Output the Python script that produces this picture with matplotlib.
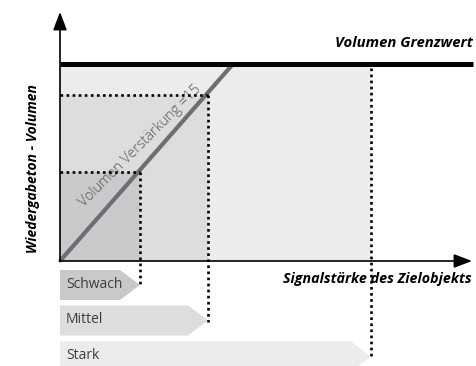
import matplotlib
matplotlib.use("Agg")
import matplotlib.pyplot as plt
from matplotlib.patches import Rectangle, Polygon
import numpy as np

# ---- data (signal strength vs. playback volume, arbitrary units) ----
levels = ["Schwach", "Mittel", "Stark"]
signal = [80, 148, 311]          # signal strength of the target for each level
volume = [89, 166, 197]          # resulting playback volume (Stark is capped)
volume_limit = 197               # "Volumen Grenzwert"
gain_x = [0, 173]                # gain line "Volumen Verstärkung =15"
gain_y = [0, 197]
axis_x_max = 412
axis_y_max = 249

region_colors = ["#c9cacb", "#dcdddd", "#ebecec"]
bar_colors = ["#c8c9ca", "#dcdddd", "#ebecec"]
bar_centers = [-24, -59.5, -95.5]

plt.rcParams['font.family'] = ['Open Sans', 'DejaVu Sans']

fig = plt.figure(figsize=(4.76, 3.66), dpi=100)
ax = fig.add_axes([0, 0, 1, 1])
ax.set_xlim(-60, 416)
ax.set_ylim(-105, 261)
ax.axis('off')

# shaded regions (largest first)
for s, v, c in sorted(zip(signal, volume, region_colors), key=lambda t: -t[0]):
    ax.add_patch(Rectangle((0, 0), s, v, facecolor=c, edgecolor='none', zorder=1))

# gain line
ax.plot(gain_x, gain_y, color='#6d6e71', lw=3.0, solid_capstyle='butt', zorder=3)

# limit line
ax.plot([0, 413], [volume_limit, volume_limit], color='black', lw=3.6,
        solid_capstyle='butt', zorder=4)

# dotted guides
dot = dict(color='black', lw=1.9, ls=(0, (1, 1.3)), zorder=5)
for s, v, c in zip(signal, volume, bar_centers):
    if v < volume_limit:
        ax.plot([0, s], [v, v], **dot)
        ax.plot([s, s], [v, c - 1], **dot)
    else:
        ax.plot([s, s], [v - 4, c - 1], **dot)

# axes with arrows
arrow = dict(arrowstyle='-|>,head_length=1.1,head_width=0.42', color='black',
             lw=1.2, mutation_scale=10, shrinkA=0, shrinkB=0)
ax.annotate('', xy=(0, axis_y_max), xytext=(0, -0.6), arrowprops=arrow, zorder=6)
ax.annotate('', xy=(axis_x_max, 0), xytext=(-0.6, 0), arrowprops=arrow, zorder=6)

# level arrow bars
h = 15
for name, s, c, col in zip(levels, signal, bar_centers, bar_colors):
    poly = Polygon([(0, c - h), (s - 20, c - h), (s, c), (s - 20, c + h), (0, c + h)],
                   closed=True, facecolor=col, edgecolor='none', zorder=2)
    ax.add_patch(poly)
    ax.text(6, c + 1, name, ha='left', va='center', fontsize=10,
            color='#3c3c3c', zorder=6)

# labels
ax.text(413, 214, "Volumen Grenzwert", ha='right', va='baseline',
        fontsize=10.7, fontweight='bold', fontstyle='italic', color='black')
ax.text(412, -22, "Signalstärke des Zielobjekts", ha='right', va='baseline',
        fontsize=10.3, fontweight='bold', fontstyle='italic', color='black')
ax.text(-27, 92, "Wiedergabeton - Volumen", ha='center', va='center', rotation=90,
        fontsize=10, fontweight='bold', fontstyle='italic', color='black')

# gain label (slightly flatter than the line, as in the original artwork)
ax.text(82.5, 112.5, "Volumen Verstärkung =15",
        rotation=45, rotation_mode='anchor', ha='center', va='baseline',
        fontsize=10.3, fontweight='light', color='#555555', zorder=4)

fig.savefig("out.png", dpi=100)
